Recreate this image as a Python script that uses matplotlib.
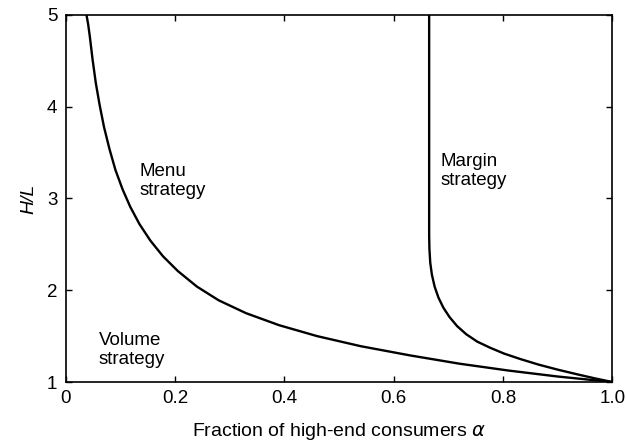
import matplotlib.pyplot as plt

plt.rcParams['font.family'] = ['Liberation Sans', 'DejaVu Sans']
plt.rcParams['mathtext.fontset'] = 'dejavusans'

# menu / volume boundary
menu_alpha = [0.038, 0.041, 0.044, 0.049, 0.055, 0.062, 0.070, 0.080, 0.091, 0.104,
              0.118, 0.135, 0.155, 0.178, 0.205, 0.240, 0.280, 0.330, 0.390,
              0.460, 0.540, 0.630, 0.720, 0.810, 0.900, 1.000]
menu_ratio = [5.00, 4.90, 4.77, 4.52, 4.26, 4.02, 3.78, 3.54, 3.31, 3.10,
              2.91, 2.72, 2.54, 2.37, 2.21, 2.04, 1.89, 1.75, 1.62,
              1.50, 1.39, 1.29, 1.20, 1.125, 1.06, 1.00]

# margin / menu boundary
margin_alpha = [0.665, 0.665, 0.6655, 0.667, 0.670, 0.675, 0.682, 0.691, 0.702,
                0.716, 0.733, 0.753, 0.776, 0.802, 0.832, 0.865, 0.900, 0.935,
                0.968, 1.000]
margin_ratio = [5.00, 2.60, 2.45, 2.30, 2.17, 2.04, 1.92, 1.81, 1.71,
                1.61, 1.52, 1.44, 1.375, 1.31, 1.25, 1.19, 1.135, 1.085,
                1.04, 1.00]

fig = plt.figure(figsize=(6.26, 4.47), dpi=100)
ax = fig.add_axes([0.105, 0.1454, 0.873, 0.8211])

ax.plot(menu_alpha, menu_ratio, color='black', lw=1.7)
ax.plot(margin_alpha, margin_ratio, color='black', lw=1.7)

ax.text(0.135, 3.19, 'Menu\nstrategy', fontsize=13.5, va='center', ha='left')
ax.text(0.060, 1.35, 'Volume\nstrategy', fontsize=13.5, va='center', ha='left')
ax.text(0.686, 3.30, 'Margin\nstrategy', fontsize=13.5, va='center', ha='left')

ax.set_xlim(0, 1)
ax.set_ylim(1, 5)
ax.set_xticks([0, 0.2, 0.4, 0.6, 0.8, 1.0])
ax.set_xticklabels(['0', '0.2', '0.4', '0.6', '0.8', '1.0'])
ax.set_yticks([1, 2, 3, 4, 5])
ax.tick_params(direction='in', length=4, width=1, labelsize=13.5,
               top=True, right=True, pad=6)
for s in ax.spines.values():
    s.set_linewidth(1.2)

ax.set_xlabel(r'Fraction of high-end consumers $\alpha$', fontsize=14, labelpad=10)
ax.set_ylabel('H/L', fontsize=14, style='italic', labelpad=7)

fig.savefig('out.png', dpi=100)
